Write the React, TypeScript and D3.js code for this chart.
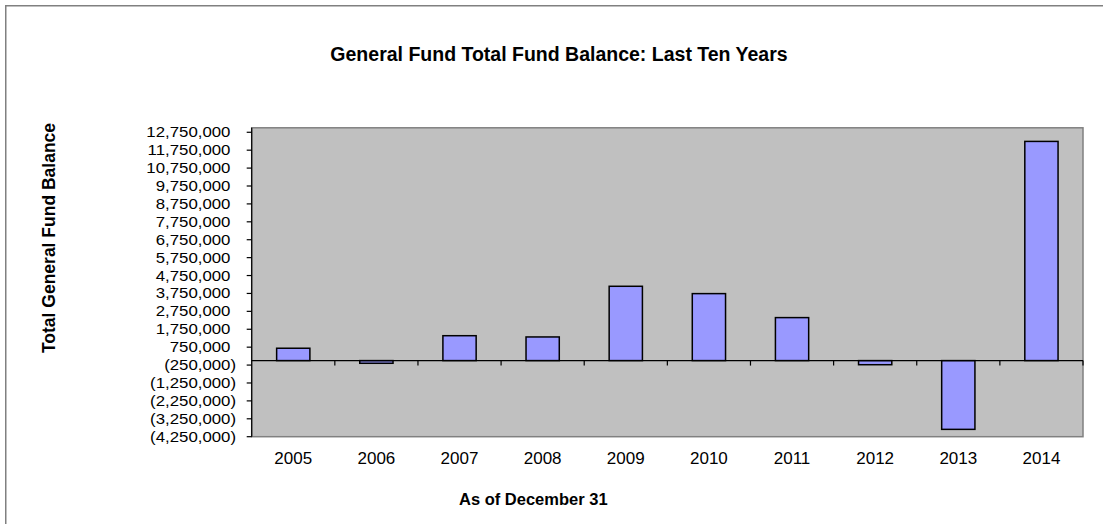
import React from "react";
import * as d3 from "d3";

const years = ["2005", "2006", "2007", "2008", "2009", "2010", "2011", "2012", "2013", "2014"];
const balances = [690000, -150000, 1390000, 1320000, 4150000, 3740000, 2400000, -230000, -3840000, 12240000];
const yTickValues = [
  -4250000, -3250000, -2250000, -1250000, -250000, 750000, 1750000, 2750000, 3750000,
  4750000, 5750000, 6750000, 7750000, 8750000, 9750000, 10750000, 11750000, 12750000,
];
const yDomain = [-4250000, 13000000];

const title = "General Fund Total Fund Balance: Last Ten Years";
const yTitle = "Total General Fund Balance";
const xTitle = "As of December 31";

const W = 1103;
const H = 524;
const plot = { left: 251.7, right: 1083, top: 127.8, bottom: 436.7 };
const FONT = "'Liberation Sans', Arial, Helvetica, sans-serif";

const fmt = d3.format(",");
const label = (v: number) => (v < 0 ? `(${fmt(-v)})` : fmt(v));

export default function App() {
  const x = d3
    .scaleBand<string>()
    .domain(years)
    .range([plot.left, plot.right])
    .paddingInner(0.6)
    .paddingOuter(0.3);
  const xCells = d3.scaleBand<string>().domain(years).range([plot.left, plot.right]).padding(0);
  const y = d3.scaleLinear().domain(yDomain).range([plot.bottom, plot.top]);
  const y0 = y(0);

  return (
    <svg
      width={W}
      height={H}
      style={{ position: "absolute", left: 0, top: 0, background: "#fff" }}
      fontFamily={FONT}
    >
      <rect x={5.75} y={5.75} width={1300} height={700} fill="#fff" stroke="#808080" strokeWidth={1.5} />
      <text x={559} y={60.5} textAnchor="middle" fontSize={19.5} fontWeight="bold" fill="#000">
        {title}
      </text>

      {/* plot area */}
      <rect
        x={plot.left}
        y={plot.top}
        width={plot.right - plot.left}
        height={plot.bottom - plot.top}
        fill="#C0C0C0"
        stroke="#808080"
        strokeWidth={1.5}
      />

      {/* bars */}
      {years.map((yr, i) => {
        const v = balances[i];
        const top = Math.min(y(v), y0);
        const h = Math.abs(y(v) - y0);
        return (
          <rect
            key={yr}
            x={x(yr)}
            y={top}
            width={x.bandwidth()}
            height={h}
            fill="#9999FF"
            stroke="#000"
            strokeWidth={1.5}
          />
        );
      })}

      {/* category axis at zero */}
      <line x1={plot.left} x2={plot.right} y1={y0} y2={y0} stroke="#000" strokeWidth={1.2} />
      {years.map((yr) => {
        const bx = (xCells(yr) as number) + xCells.bandwidth();
        return <line key={"t" + yr} x1={bx} x2={bx} y1={y0} y2={y0 + 5} stroke="#000" strokeWidth={1.2} />;
      })}
      {years.map((yr) => (
        <text
          key={"l" + yr}
          x={(xCells(yr) as number) + xCells.bandwidth() / 2}
          y={464.3}
          textAnchor="middle"
          fontSize={17}
          fill="#000"
        >
          {yr}
        </text>
      ))}

      {/* value axis */}
      <line x1={plot.left} x2={plot.left} y1={plot.top} y2={plot.bottom} stroke="#000" strokeWidth={1.2} />
      {yTickValues.map((v) => (
        <g key={"y" + v}>
          <line x1={plot.left - 5} x2={plot.left} y1={y(v)} y2={y(v)} stroke="#000" strokeWidth={1.2} />
          <g transform={`translate(${v < 0 ? 236 : 230.4},${y(v)}) scale(1.2,1)`}>
            <text x={0} y={0} dy="0.36em" textAnchor="end" fontSize={14} fill="#000">
              {label(v)}
            </text>
          </g>
        </g>
      ))}

      <text
        transform={`translate(55,238) rotate(-90)`}
        textAnchor="middle"
        fontSize={17.5}
        fontWeight="bold"
        fill="#000"
      >
        {yTitle}
      </text>
      <text x={459} y={505} textAnchor="start" fontSize={16.5} fontWeight="bold" fill="#000">
        {xTitle}
      </text>
    </svg>
  );
}
